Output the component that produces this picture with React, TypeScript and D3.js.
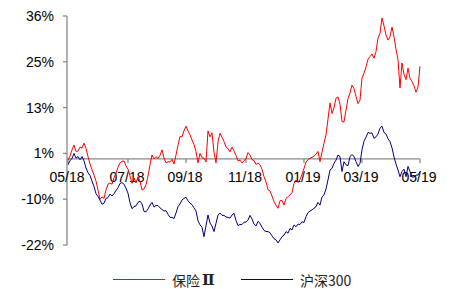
import React from "react";
import * as d3 from "d3";

const seriesNames = ["保险", "沪深300"];
const seriesSuffix = ["Ⅱ", ""];
const seriesColors = ["#FF0000", "#000080"];

const insurance = [
  -0.3, 0.7, 2.3, 3.5, 1.9, 2.0, 3.0, 2.7, 4.0, 2.7,
  0.6, -1.3, -2.7, -4.1, -5.6, -7.9, -10.2, -9.6, -10.0, -7.8,
  -6.4, -6.1, -6.4, -4.8, -3.6, -2.1, -1.0, -0.6, -0.5, -1.8,
  -2.6, -4.3, -6.2, -4.8, -6.1, -4.5, -5.6, -7.9, -7.6, -6.5,
  -4.3, -1.5, 1.0, 0.0, 0.6, 0.1, 0.9, 2.3, 0.2, -1.0,
  -0.7, -0.8, -0.1, -1.3, 1.0, 3.5, 5.7, 5.6, 7.1, 8.3,
  7.1, 6.1, 4.8, 3.6, 1.9, -1.0, 1.4, 0.3, 0.2, -0.8,
  7.1, 5.6, 6.6, 1.7, -1.0, 4.3, 6.5, 5.5, 4.4, 3.0,
  2.6, 1.8, 3.0, 2.0, 0.9, -0.5, -0.3, -1.0, -0.5, 0.1,
  1.6, 1.0, -0.2, -0.4, -1.4, -1.0, -1.5, -2.6, -4.5, -5.8,
  -7.8, -8.1, -9.4, -10.8, -11.7, -12.5, -10.6, -10.5, -11.7, -10.0,
  -9.6, -9.1, -8.6, -6.2, -5.3, -6.0, -5.2, -3.9, -2.4, -0.8,
  -0.2, 0.2, 0.4, 0.7, 1.2, 1.9, -0.7, 1.7, 4.0, 6.1,
  10.1, 14.2, 11.5, 12.9, 15.4, 15.7, 13.9, 9.4, 9.4, 12.4,
  15.3, 16.7, 18.7, 17.8, 15.8, 14.0, 14.9, 20.5, 21.7, 23.3,
  25.3, 25.9, 26.6, 25.5, 27.2, 30.6, 31.8, 35.7, 33.7, 31.4,
  30.1, 31.0, 33.4, 30.9, 27.8, 25.1, 18.0, 24.3, 21.4, 20.1,
  23.0, 20.4, 19.6, 18.5, 16.9, 18.2, 23.5,
];

const csi300 = [
  -1.5, -0.4, 0.1, 1.4, 0.2, 0.6, -0.2, 0.6, -0.5, -2.3,
  -3.5, -4.2, -5.6, -7.0, -8.8, -9.5, -10.4, -11.5, -11.2, -10.0,
  -9.8, -8.9, -9.4, -8.8, -8.0, -7.3, -6.2, -6.0, -6.4, -7.4,
  -8.7, -11.1, -12.6, -12.1, -11.9, -11.0, -10.7, -11.4, -13.3, -13.4,
  -12.7, -11.7, -11.0, -12.2, -11.8, -11.8, -12.4, -12.8, -13.2, -13.1,
  -14.0, -14.8, -14.8, -15.1, -13.7, -12.1, -11.4, -10.4, -10.0, -9.7,
  -10.6, -11.2, -11.6, -12.4, -13.2, -15.7, -16.7, -17.3, -19.7, -16.9,
  -14.2, -16.2, -17.0, -18.4, -16.3, -14.2, -13.7, -14.3, -14.3, -14.7,
  -14.8, -15.0, -14.2, -13.8, -15.6, -16.9, -16.6, -16.6, -16.0, -16.0,
  -15.5, -14.3, -15.2, -16.5, -17.0, -15.8, -16.3, -17.3, -18.1, -18.4,
  -18.4, -18.7, -19.5, -20.2, -20.5, -21.3, -20.5, -19.7, -19.3, -18.4,
  -18.8, -17.6, -18.0, -16.7, -17.2, -16.5, -16.6, -15.9, -16.1, -14.6,
  -13.6, -13.2, -12.9, -12.5, -12.1, -11.0, -11.7, -9.6, -9.1, -7.6,
  -5.3, -2.8, -2.4, -1.1, -0.3, 1.0, 0.6, -3.2, -0.7, -1.5,
  -1.7, 0.6, 1.1, 0.6, -0.7, -1.9, -1.1, 2.3, 4.5, 5.5,
  6.7, 6.5, 6.6, 5.2, 5.6, 6.3, 7.8, 8.3, 6.7, 6.3,
  5.1, 4.4, 2.8, 0.5, -1.3, -2.8, -4.5, -3.2, -2.6, -4.5,
  -1.9, -3.2, -4.6, -4.6, -4.1, -4.1, -3.2,
];

const xTickIndex = [0, 30, 59, 89, 118, 147, 176];
const xTickLabels = ["05/18", "07/18", "09/18", "11/18", "01/19", "03/19", "05/19"];
const yTickValues = [36.2, 24.6, 13.0, 1.4, -10.2, -21.8];

export default function App() {
  const W = 454, H = 289;
  const x = d3.scaleLinear().domain([0, insurance.length - 1]).range([68, 420]);
  const y = d3.scaleLinear().domain([-21.8, 36.2]).range([245, 16]);
  const line = d3
    .line<number>()
    .x((_, i) => x(i))
    .y((d) => y(d));
  const axisColor = "#888888";
  const font = "'Liberation Sans', Arial, sans-serif";
  const y0 = y(0);
  const series = [insurance, csi300];
  return (
    <svg
      width={W}
      height={H}
      style={{ position: "absolute", left: 0, top: 0, background: "#fff" }}
    >
      <line x1={67} x2={67} y1={y(36.2)} y2={y(-21.8)} stroke={axisColor} strokeWidth={1.3} />
      {yTickValues.map((v, i) => (
        <g key={i}>
          <line x1={63} x2={67} y1={y(v)} y2={y(v)} stroke={axisColor} strokeWidth={1.3} />
          <text
            x={54}
            y={y(v)}
            textAnchor="end"
            dominantBaseline="central"
            fontFamily={font}
            fontSize={14}
            fill="#000"
          >
            {Math.round(v)}%
          </text>
        </g>
      ))}
      <line x1={67} x2={x(176)} y1={y0} y2={y0} stroke={axisColor} strokeWidth={1.3} />
      {xTickIndex.map((t, i) => (
        <g key={i}>
          <line x1={x(t)} x2={x(t)} y1={y0} y2={y0 + 4} stroke={axisColor} strokeWidth={1.3} />
          <text
            x={x(t) - 1}
            y={y0 + 18}
            textAnchor="middle"
            dominantBaseline="central"
            fontFamily={font}
            fontSize={14}
            fill="#000"
          >
            {xTickLabels[i]}
          </text>
        </g>
      ))}
      {series.map((s, i) => (
        <path key={i} d={line(s) || ""} fill="none" stroke={seriesColors[i]} strokeWidth={1} />
      ))}
      {seriesNames.map((n, i) => {
        const lx = i === 0 ? 113 : 241;
        return (
          <g key={n}>
            <line x1={lx} x2={lx + 52} y1={279.5} y2={279.5} stroke={seriesColors[i]} strokeWidth={1} />
            <text
              x={lx + 59}
              y={279.5}
              dominantBaseline="central"
              fontFamily="'Noto Sans CJK SC', sans-serif"
              fontSize={14}
              fill="#222"
            >
              {n}
              {seriesSuffix[i] && (
                <tspan dx={2} fontFamily="'DejaVu Serif', serif" fontWeight="bold" fontSize={15}>
                  {seriesSuffix[i]}
                </tspan>
              )}
            </text>
          </g>
        );
      })}
    </svg>
  );
}
